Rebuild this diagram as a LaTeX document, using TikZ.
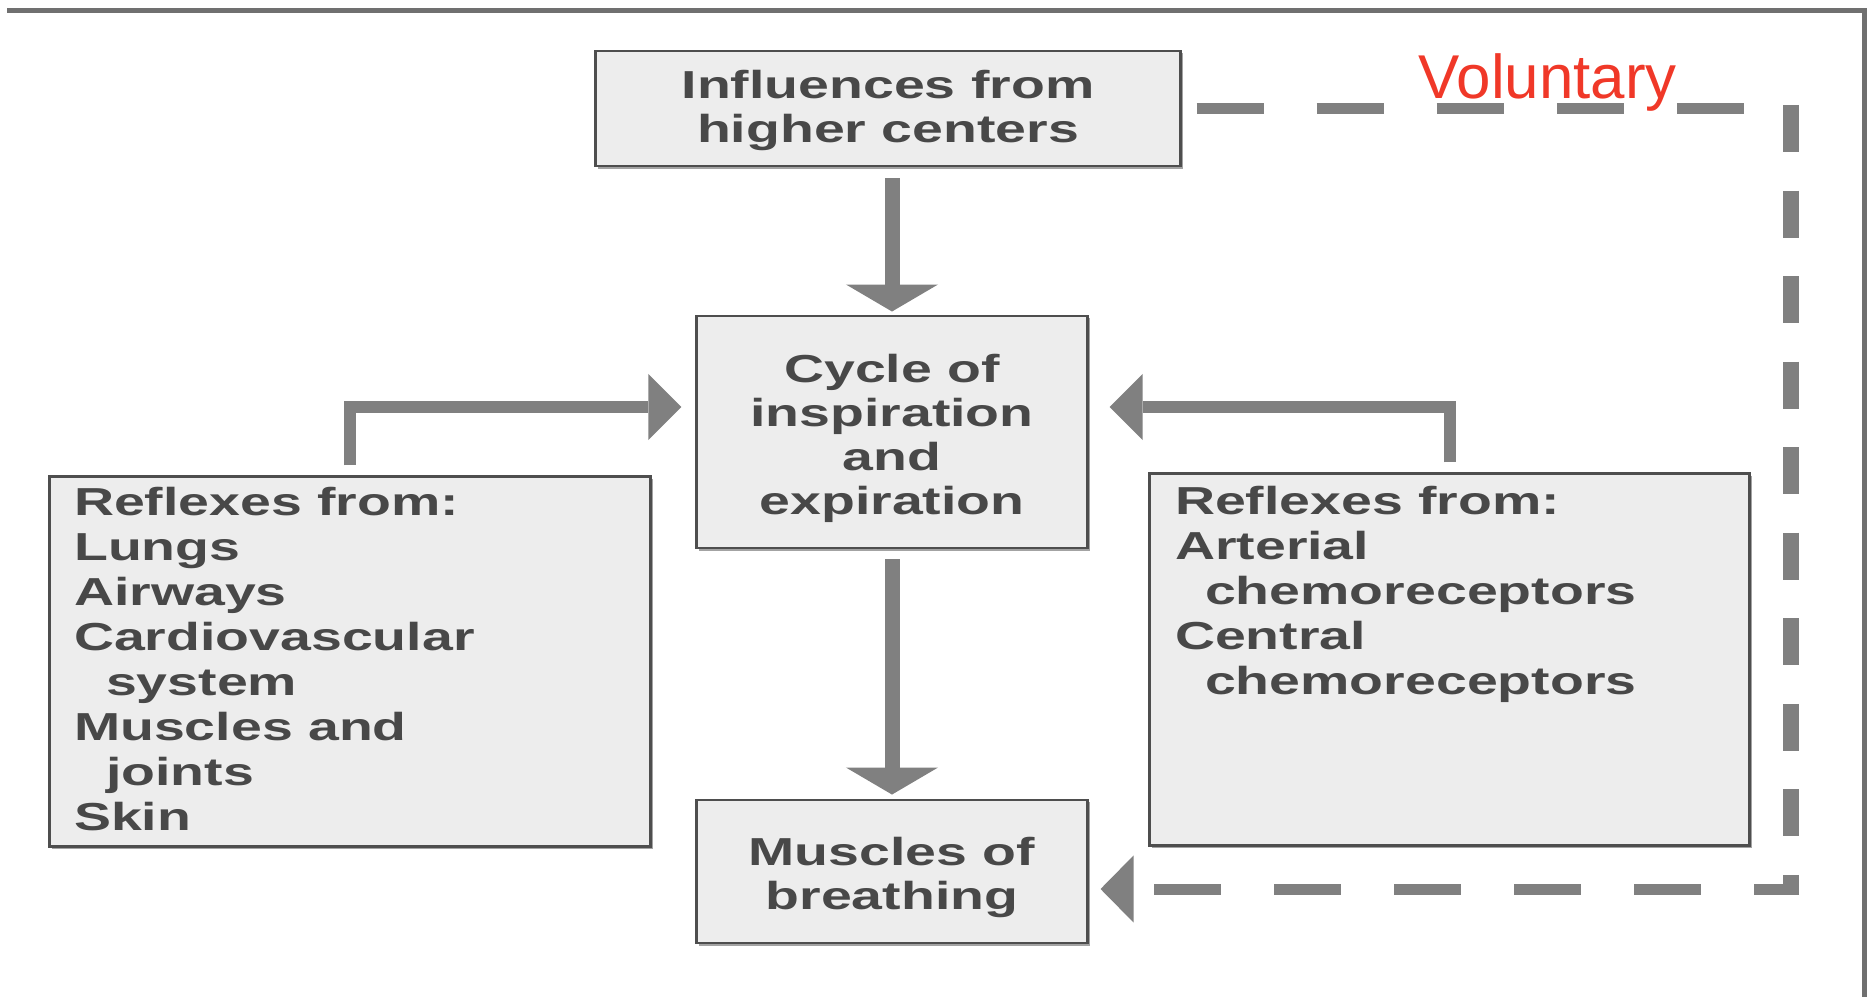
\documentclass[tikz,border=0pt]{standalone}
\usepackage{fontspec}
\usetikzlibrary{arrows.meta,shadows,positioning}
\newfontfamily\boxfont[FakeStretch=1.42]{Liberation Sans}
\newfontfamily\volfont{Liberation Sans}
\definecolor{boxline}{RGB}{78,78,78}
\definecolor{boxfill}{RGB}{237,237,237}
\definecolor{txtgray}{RGB}{72,72,72}
\definecolor{arrgray}{RGB}{128,128,128}
\definecolor{framegray}{RGB}{112,112,112}
\definecolor{volred}{RGB}{240,56,40}

\begin{document}
\begin{tikzpicture}[
x=0.01cm, y=-0.01cm,
boxtext/.style={font=\boxfont\bfseries\fontsize{11.1pt}{12.5pt}\selectfont, text=txtgray},
listtext/.style={font=\boxfont\bfseries\fontsize{11.1pt}{12.8pt}\selectfont, text=txtgray, align=left, inner sep=0pt}
]

\tikzstyle{blk} = [draw=boxline, fill=boxfill, line width=0.8pt, shape=rectangle, inner sep=0pt, align=center, boxtext, drop shadow={shadow xshift=0.025cm, shadow yshift=-0.025cm, fill=black!60, opacity=0.6}]
\tikzstyle{vflow} = [draw=arrgray, line width=0.15cm, -{Triangle[width=0.92cm,length=0.27cm,line width=0pt]}]
\tikzstyle{hflow} = [draw=arrgray, line width=0.12cm, -{Triangle[width=0.66cm,length=0.33cm,line width=0pt]}]
\tikzstyle{volh} = [draw=arrgray, line width=0.11cm, dash pattern=on 0.67cm off 0.53cm]
\tikzstyle{volv} = [draw=arrgray, line width=0.16cm, dash pattern=on 0.47cm off 0.385cm]

\useasboundingbox (0,0) rectangle (1869,997);
\draw[framegray, line width=0.05cm] (7,11) -- (1864,11) -- (1864,997);

\node[blk, minimum width=5.84cm, minimum height=1.15cm, text height=0.784cm, text depth=0.10cm] (infl) at (888,108.5) {Influences from\\higher centers};
\node[blk, minimum width=3.90cm, minimum height=2.32cm, text height=1.74cm, text depth=0.10cm] (cycle) at (892,432) {Cycle of\\inspiration\\and\\expiration};
\node[blk, minimum width=3.90cm, minimum height=1.43cm, text height=0.85cm, text depth=0.10cm] (musc) at (892,871.5) {Muscles of\\breathing};
\node[blk, minimum width=6.00cm, minimum height=3.69cm] (leftbox) at (350,661.5) {};
\node[blk, minimum width=5.99cm, minimum height=3.71cm] (rightbox) at (1449.5,659.5) {};

\node[listtext, below right=0.11cm and 0.25cm of leftbox.north west] (lefttext) {Reflexes from:\\Lungs\\Airways\\Cardiovascular\\\hspace*{0.32cm}system\\Muscles and\\\hspace*{0.32cm}joints\\Skin};
\node[listtext, below right=0.13cm and 0.26cm of rightbox.north west] (righttext) {Reflexes from:\\Arterial\\\hspace*{0.3cm}chemoreceptors\\Central\\\hspace*{0.3cm}chemoreceptors};

\node[font=\volfont\fontsize{17.6pt}{20pt}\selectfont, text=volred, inner sep=0pt, anchor=base west] (vol) at (1418,99) {Voluntary};

\coordinate (volTR) at (1791,105);
\coordinate (volBR) at (1791,895);
\coordinate (volB) at (1799,889);

\draw[vflow, shorten <=0.11cm, shorten >=0.03cm] (infl.south -| cycle.north) -- (cycle.north);
\draw[vflow, shorten <=0.10cm, shorten >=0.04cm] (cycle.south) -- (musc.north);
\draw[hflow, shorten <=0.10cm, shorten >=0.14cm] (leftbox.north) |- ([yshift=0.25cm]cycle.west);
\draw[hflow, shorten <=0.10cm, shorten >=0.21cm] (rightbox.north) |- ([yshift=0.25cm]cycle.east);

\draw[volh, shorten <=0.15cm] (infl.east) -- (infl.east -| volTR);
\draw[volv] (volTR) -- (volBR);
\draw[volh, dash phase=0.22cm, shorten >=0.12cm, -{Triangle[width=0.67cm,length=0.33cm,line width=0pt]}] (volB) -- (volB -| musc.east);
\end{tikzpicture}
\end{document}
